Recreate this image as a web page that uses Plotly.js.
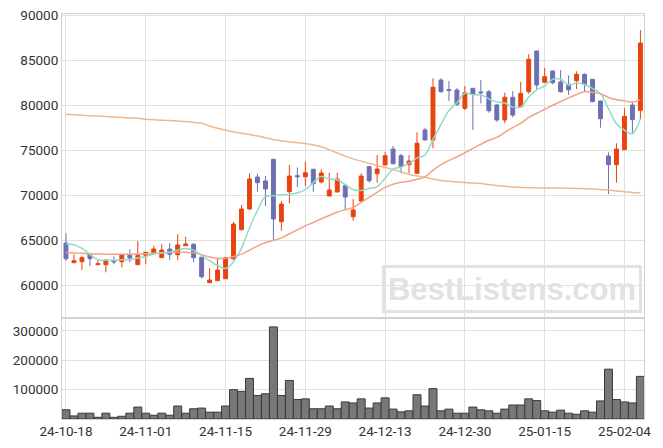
<!DOCTYPE html>
<html>
<head>
<meta charset="utf-8">
<script src="https://cdn.plot.ly/plotly-3.0.1.min.js"></script>
<style>
  html, body { margin: 0; padding: 0; background: #fff; }
  #chart { width: 663px; height: 448px; }
</style>
</head>
<body>
<div id="chart"></div>
<script>
const dates = [
  '24-10-18','24-10-21','24-10-22','24-10-23','24-10-24','24-10-25','24-10-28','24-10-29','24-10-30','24-10-31',
  '24-11-01','24-11-04','24-11-05','24-11-06','24-11-07','24-11-08','24-11-11','24-11-12','24-11-13','24-11-14',
  '24-11-15','24-11-18','24-11-19','24-11-20','24-11-21','24-11-22','24-11-25','24-11-26','24-11-27','24-11-28',
  '24-11-29','24-12-02','24-12-03','24-12-04','24-12-05','24-12-06','24-12-09','24-12-10','24-12-11','24-12-12',
  '24-12-13','24-12-16','24-12-17','24-12-18','24-12-19','24-12-20','24-12-23','24-12-24','24-12-26','24-12-27',
  '24-12-30','25-01-02','25-01-03','25-01-06','25-01-07','25-01-08','25-01-09','25-01-10','25-01-13','25-01-14',
  '25-01-15','25-01-16','25-01-17','25-01-20','25-01-21','25-01-22','25-01-23','25-01-24','25-01-31','25-02-03',
  '25-02-04','25-02-05','25-02-06'
];
const tickDates = ['24-10-18','24-11-01','24-11-15','24-11-29','24-12-13','24-12-30','25-01-15','25-02-04'];

const open = [64700,62510,62620,63440,62290,62290,62730,62620,63330,62290,
  63330,63590,63070,64030,63400,64400,64560,63110,60290,60510,
  60730,62920,66180,68480,72030,71590,74000,67070,70400,72180,
  72070,72890,71480,69920,70370,71070,67620,69370,73180,72400,
  73370,75140,74400,73400,72440,77260,76140,82810,81750,81700,
  79670,81890,81480,81510,80030,78370,80890,79840,81510,86030,
  82560,83810,82590,82330,82730,83440,82890,80480,74370,73400,
  75070,80030,79440];
const high = [65780,63440,63290,63560,62890,62850,63220,63440,64000,64920,
  63700,64400,64560,64670,65670,65400,64670,63150,61890,63070,
  63100,67070,68920,72440,72400,72140,74050,69370,73370,73090,
  73730,72900,72890,72510,72510,71100,69590,72440,73250,74480,
  74840,75480,74590,74480,77000,77510,83000,83000,82700,81890,
  82140,81900,82810,81700,80140,81400,81590,82620,85670,86050,
  84150,83850,83920,83330,83780,83550,82900,80500,74780,75780,
  79670,80400,88370];
const low = [62700,62510,61700,62140,62290,61440,62330,61990,62560,62290,
  62330,63400,63070,62810,62810,64400,62560,60730,60290,60510,
  60730,62900,66100,68400,70370,68810,65030,66070,69110,70920,
  71030,70400,71300,69900,70350,68440,67180,69300,71400,71400,
  73370,73450,72440,72440,72440,76100,75220,81400,80480,79920,
  79480,77260,80220,79180,78180,78000,78670,79840,81260,81780,
  82500,82330,81400,81140,81810,81590,80400,77510,70140,71400,
  75070,76960,78440];
const close = [62960,62730,63070,62960,62400,62810,62620,63370,63030,63330,
  63670,64030,63920,63440,64480,64590,63070,60960,60590,61700,
  63070,66810,68480,71810,71400,70700,67370,69030,72140,72070,
  72510,71290,72480,70590,71810,69810,68370,72140,71620,72920,
  74400,73510,73180,73810,75780,76140,82000,81510,81650,80110,
  81400,81220,81400,79400,78370,80890,78920,81330,85110,82260,
  83180,82510,81510,81730,83440,82330,80400,78510,73400,75140,
  78780,78400,86920];
const volume = [31400,10500,19800,19800,5800,19800,5800,9300,19800,40700,
  19800,12800,19800,12800,44200,19800,34900,37200,23300,23300,
  44200,100000,94200,138400,80200,86000,314000,80200,131400,66300,
  68600,34900,34900,44200,34900,58100,54700,68600,37200,54700,
  72100,33700,24400,27900,82600,44200,103500,27900,33700,19800,
  19800,40700,31400,27900,19800,33700,47700,47700,68600,62800,
  27900,23300,30200,19800,16300,27900,23300,61600,169800,66300,
  58100,54700,145300];
const ma5 = [64590,64510,64110,63440,62824,62794,62772,62832,62846,63032,
  63204,63486,63596,63678,63908,64092,63900,63308,62738,62182,
  61878,62626,64130,66374,68314,69840,69952,70062,70128,70262,
  70624,71408,72098,71788,71736,71196,70612,70544,70750,70972,
  71890,72918,73126,73564,74136,74484,76182,77848,79416,80282,
  81334,81178,81156,80706,80358,80256,79796,79782,80924,81702,
  82160,82878,82914,82238,82474,82304,81882,81282,79616,77956,
  77246,76846,78528];
const ma20 = [63650,63600,63550,63500,63480,63460,63450,63450,63460,63480,
  63500,63550,63600,63650,63660,63660,63620,63400,63150,62987,
  62992,63196,63467,63909,64359,64754,64991,65274,65730,66167,
  66609,66972,67400,67757,68124,68385,68650,69209,69760,70321,
  70888,71223,71458,71558,71777,72049,72780,73404,73880,74282,
  74726,75223,75669,76109,76437,76991,77519,77978,78653,79120,
  79559,80009,80425,80821,81204,81514,81434,81284,80871,80623,
  80492,80351,80627];
const maLong = [79000,78950,78900,78850,78800,78750,78700,78650,78600,78550,
  78450,78400,78350,78300,78250,78200,78100,78000,77700,77450,
  77250,77050,76900,76750,76580,76400,76200,76050,75950,75850,
  75750,75600,75400,75050,74700,74350,74050,73800,73550,73300,
  73100,72850,72600,72350,72150,72000,71800,71650,71550,71480,
  71420,71370,71300,71200,71100,71000,70920,70880,70850,70830,
  70820,70800,70800,70780,70760,70730,70700,70650,70580,70480,
  70400,70300,70250];

const upColor = '#e8430f';
const downColor = '#6c70b3';
const gridColor = '#e0e0e0';
const lineColor = '#d2d2d2';

const traces = [
  {
    type: 'scatter', mode: 'lines', x: dates, y: maLong, xaxis: 'x', yaxis: 'y',
    line: { color: '#efb78c', width: 1.5, shape: 'spline' }, hoverinfo: 'skip'
  },
  {
    type: 'scatter', mode: 'lines', x: dates, y: ma20, xaxis: 'x', yaxis: 'y',
    line: { color: '#f2a285', width: 1.5, shape: 'spline' }, hoverinfo: 'skip'
  },
  {
    type: 'scatter', mode: 'lines', x: dates, y: ma5, xaxis: 'x', yaxis: 'y',
    line: { color: '#93dac4', width: 1.5, shape: 'spline' }, hoverinfo: 'skip'
  },
  {
    type: 'candlestick', x: dates, open: open, high: high, low: low, close: close,
    xaxis: 'x', yaxis: 'y',
    increasing: { line: { color: upColor, width: 1 }, fillcolor: upColor },
    decreasing: { line: { color: downColor, width: 1 }, fillcolor: downColor },
    whiskerwidth: 0
  },
  {
    type: 'bar', x: dates, y: volume, xaxis: 'x', yaxis: 'y2', width: 1,
    marker: { color: '#787878', line: { color: '#3a3a3a', width: 1 } },
    hoverinfo: 'skip'
  }
];

const layout = {
  width: 663, height: 448,
  margin: { l: 62, r: 19, t: 14, b: 29, pad: 0 },
  paper_bgcolor: '#ffffff', plot_bgcolor: '#ffffff',
  showlegend: false,
  font: { family: 'Roboto, sans-serif', size: 13.5, color: '#333333' },
  xaxis: {
    type: 'category', anchor: 'y2', range: [-0.5, 72.45],
    tickmode: 'array', tickvals: tickDates, ticktext: tickDates,
    showgrid: true, gridcolor: gridColor, gridwidth: 1,
    showline: true, mirror: 'all', linecolor: lineColor, linewidth: 1,
    ticks: '', rangeslider: { visible: false }, fixedrange: true
  },
  yaxis: {
    domain: [0.2494, 1], range: [56367, 90144],
    tickmode: 'linear', tick0: 0, dtick: 5000, tickformat: 'd',
    showgrid: true, gridcolor: gridColor, zeroline: false,
    showline: true, mirror: true, linecolor: lineColor, ticks: ''
  },
  yaxis2: {
    domain: [0, 0.2494], range: [0, 344300],
    tickmode: 'array', tickvals: [100000, 200000, 300000], tickformat: 'd',
    showgrid: true, gridcolor: gridColor, zeroline: false,
    showline: true, mirror: true, linecolor: lineColor, ticks: ''
  },
  annotations: [{
    xref: 'paper', yref: 'paper', x: 0.773, y: 0.321,
    xanchor: 'center', yanchor: 'middle',
    text: '<b>BestListens.com</b>', showarrow: false,
    font: { family: 'Liberation Sans, Arial, sans-serif', size: 31, color: '#e2e2e2' },
    bordercolor: '#e2e2e2', borderwidth: 3, borderpad: 2,
    width: 250, height: 38
  }]
};

Plotly.newPlot('chart', traces, layout, { staticPlot: true, displayModeBar: false });
</script>
</body>
</html>
